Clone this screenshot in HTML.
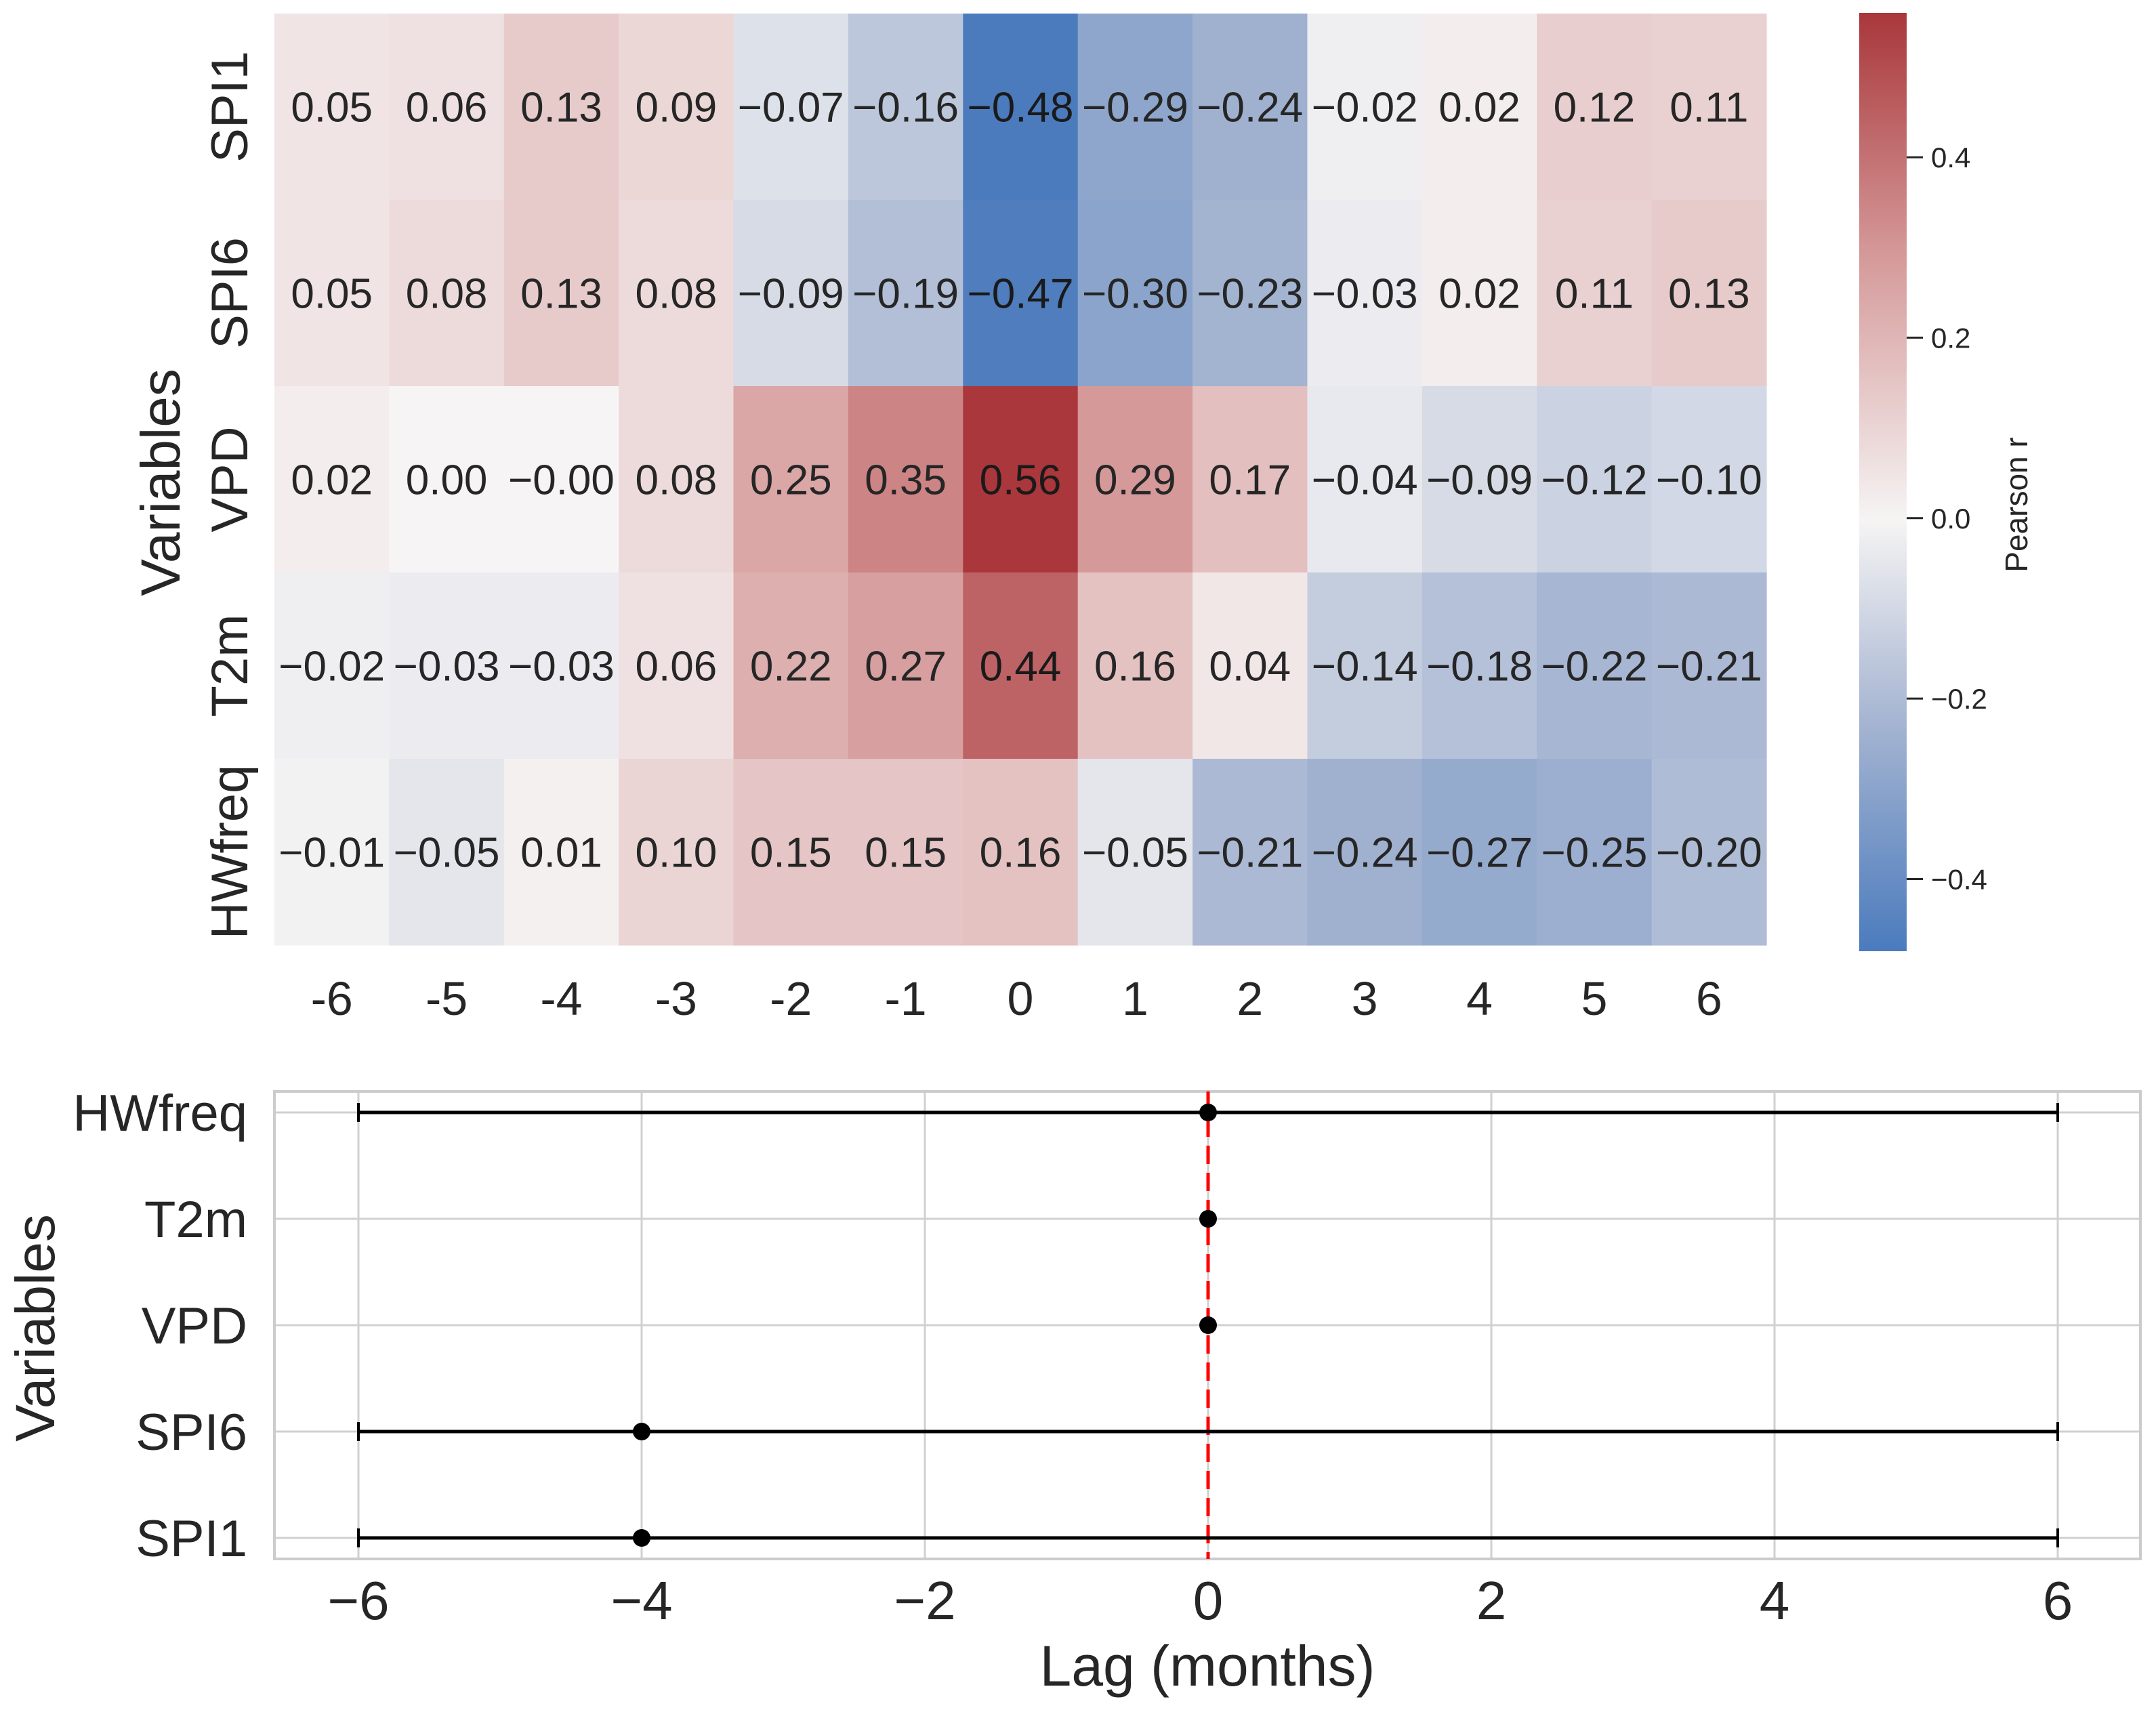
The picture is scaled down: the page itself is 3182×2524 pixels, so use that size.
<!DOCTYPE html>
<html><head><meta charset="utf-8"><style>
html,body{margin:0;padding:0;background:#fff}
svg{display:block;font-family:"Liberation Sans",Arial,sans-serif}
</style></head><body>
<svg id="fig" width="3182" height="2524" viewBox="0 0 3182 2524" xmlns="http://www.w3.org/2000/svg">
<defs>
<linearGradient id="cbgrad" x1="0" y1="1" x2="0" y2="0">
<stop offset="0" stop-color="#4b7bbd"/>
<stop offset="0.25" stop-color="#a7b6d2"/>
<stop offset="0.46" stop-color="#f6f4f4"/>
<stop offset="0.75" stop-color="#d49696"/>
<stop offset="1" stop-color="#a9373b"/>
</linearGradient>
</defs>
<g id="heat"></g>
<g id="cbar"></g>
<g id="lag"></g>
</svg>
<script>
const heatRows = ["SPI1","SPI6","VPD","T2m","HWfreq"];
const heatLags = [-6,-5,-4,-3,-2,-1,0,1,2,3,4,5,6];
const rowSPI1 = [0.05,0.06,0.13,0.09,-0.07,-0.16,-0.48,-0.29,-0.24,-0.02,0.02,0.12,0.11];
const rowSPI6 = [0.05,0.08,0.13,0.08,-0.09,-0.19,-0.47,-0.30,-0.23,-0.03,0.02,0.11,0.13];
const rowVPD = [0.02,0.00,-0.00,0.08,0.25,0.35,0.56,0.29,0.17,-0.04,-0.09,-0.12,-0.10];
const rowT2m = [-0.02,-0.03,-0.03,0.06,0.22,0.27,0.44,0.16,0.04,-0.14,-0.18,-0.22,-0.21];
const rowHW = [-0.01,-0.05,0.01,0.10,0.15,0.15,0.16,-0.05,-0.21,-0.24,-0.27,-0.25,-0.20];
const cbTicks = [0.4,0.2,0.0,-0.2,-0.4];
const lagVars = ["HWfreq","T2m","VPD","SPI6","SPI1"];
const lagBest = [0,0,0,-4,-4];
const lagLow = [-6,null,null,-6,-6];
const lagHigh = [6,null,null,6,6];
const lagTicks = [-6,-4,-2,0,2,4,6];

const NS="http://www.w3.org/2000/svg";
function mk(parent,tag,attrs,text){const e=document.createElementNS(NS,tag);for(const k in attrs)e.setAttribute(k,attrs[k]);if(text!==undefined)e.textContent=text;parent.appendChild(e);return e;}
const heatData=[rowSPI1,rowSPI6,rowVPD,rowT2m,rowHW];
const vmin=-0.48,vmax=0.56;
const stops=[[0,[75,123,189]],[0.25,[167,182,210]],[0.46,[246,244,244]],[0.75,[212,150,150]],[1,[169,55,59]]];
function color(v){let t=(v-vmin)/(vmax-vmin);t=Math.max(0,Math.min(1,t));for(let i=1;i<stops.length;i++){if(t<=stops[i][0]){const a=stops[i-1],b=stops[i];const f=(t-a[0])/(b[0]-a[0]);const c=a[1].map((x,j)=>Math.round(x+(b[1][j]-x)*f));return `rgb(${c})`;}}return "rgb(169,55,59)";}
const HX=405,HY=20,CW=2202/13,RH=275;
const hx=i=>HX+i*CW, hy=j=>HY+j*RH;
const heat=document.getElementById('heat');
heatRows.forEach((r,j)=>{
  heatLags.forEach((l,i)=>{
    const v=heatData[j][i];
    const c=mk(heat,'rect',{x:hx(i),y:hy(j),width:CW+0.6,height:RH+0.6,fill:color(v)});
    
    
    const t=mk(heat,'text',{x:hx(i)+CW/2,y:hy(j)+RH/2+22,'font-size':62,'text-anchor':'middle',fill:Math.abs(v)>0.4?'#fff':'#262626'},(v<0||Object.is(v,-0)||(v===0&&i===2&&j===2)?'\u2212':'')+Math.abs(v).toFixed(2));
    if(Math.abs(v)>0.4)t.setAttribute('fill','#1a1a1a');
    
    
  });
  const yl=mk(heat,'text',{transform:`translate(${HX-40},${hy(j)+RH/2}) rotate(-90)`,'font-size':76,'text-anchor':'middle',fill:'#262626'},r);
  
  
});
heatLags.forEach((l,i)=>{
  const t=mk(heat,'text',{x:hx(i)+CW/2,y:1498,'font-size':70,'text-anchor':'middle',fill:'#262626'},String(l));
  
  
});
const ht=mk(heat,'text',{transform:'translate(265,712) rotate(-90)','font-size':82,'text-anchor':'middle',fill:'#262626'},'Variables');



// colorbar
const cb=document.getElementById('cbar');
const CBT=19,CBB=1404;
const cy=v=>CBB-(v-vmin)/(vmax-vmin)*(CBB-CBT);
const cr=mk(cb,'rect',{x:2744,y:CBT,width:70,height:CBB-CBT,fill:'url(#cbgrad)'});


cbTicks.forEach(v=>{
  mk(cb,'line',{x1:2814,x2:2838,y1:cy(v),y2:cy(v),stroke:'#262626','stroke-width':3});
  const t=mk(cb,'text',{x:2850,y:cy(v)+15,'font-size':42,fill:'#262626'},(v<0?'\u2212':'')+Math.abs(v).toFixed(1));
  
  
});
const cbl=mk(cb,'text',{transform:'translate(2992,745) rotate(-90)','font-size':46,'text-anchor':'middle',fill:'#262626'},'Pearson r');



// lag plot
const lag=document.getElementById('lag');
const AX=405,AR=3159,AT=1611,AB=2301;
const lx=v=>529+(v+6)*209;
const ly=j=>1642+j*157;
lagTicks.forEach(v=>{
  mk(lag,'line',{x1:lx(v),x2:lx(v),y1:AT,y2:AB,stroke:'#d0d0d0','stroke-width':3});
  const t=mk(lag,'text',{x:lx(v),y:2390,'font-size':80,'text-anchor':'middle',fill:'#262626'},(v<0?'\u2212':'')+Math.abs(v));
  
  
});
lagVars.forEach((n,j)=>{
  mk(lag,'line',{x1:AX,x2:AR,y1:ly(j),y2:ly(j),stroke:'#d0d0d0','stroke-width':3});
  const t=mk(lag,'text',{x:365,y:ly(j)+27,'font-size':76,'text-anchor':'end',fill:'#262626'},n);
  
  
});
const fr=mk(lag,'rect',{x:AX,y:AT,width:AR-AX,height:AB-AT,fill:'none',stroke:'#cccccc','stroke-width':4});


const dl=mk(lag,'line',{x1:lx(0),x2:lx(0),y1:AT,y2:AB,stroke:'#ff0000','stroke-width':5,'stroke-dasharray':'27,13'});


lagVars.forEach((n,j)=>{
  if(lagLow[j]!==null){
    const g=mk(lag,'g',{});
    
    
    mk(g,'line',{x1:lx(lagLow[j]),x2:lx(lagHigh[j]),y1:ly(j),y2:ly(j),stroke:'#000','stroke-width':5});
    mk(g,'line',{x1:lx(lagLow[j]),x2:lx(lagLow[j]),y1:ly(j)-14,y2:ly(j)+14,stroke:'#000','stroke-width':4});
    mk(g,'line',{x1:lx(lagHigh[j]),x2:lx(lagHigh[j]),y1:ly(j)-14,y2:ly(j)+14,stroke:'#000','stroke-width':4});
  }
  const d=mk(lag,'circle',{cx:lx(lagBest[j]),cy:ly(j),r:13,fill:'#000'});
  
  
});
const xt=mk(lag,'text',{x:1782,y:2488,'font-size':84,'text-anchor':'middle',fill:'#262626'},'Lag (months)');


const yt=mk(lag,'text',{transform:'translate(80,1960) rotate(-90)','font-size':82,'text-anchor':'middle',fill:'#262626'},'Variables');


</script>
</body></html>
